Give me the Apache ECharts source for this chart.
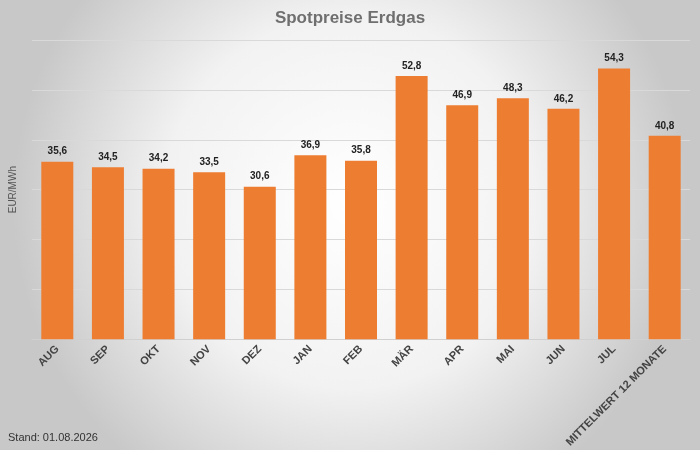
<!DOCTYPE html>
<html><head><meta charset="utf-8">
<script src="https://cdn.jsdelivr.net/npm/echarts@6/dist/echarts.min.js"></script>
<style>html,body{margin:0;padding:0}#c{width:700px;height:450px}</style>
</head><body><div id="c"></div>
<script>
const categories=["AUG","SEP","OKT","NOV","DEZ","JAN","FEB","MÄR","APR","MAI","JUN","JUL","MITTELWERT 12 MONATE"];
const values=[35.6,34.5,34.2,33.5,30.6,36.9,35.8,52.8,46.9,48.3,46.2,54.3,40.8];
const chart=echarts.init(document.getElementById('c'));
chart.setOption({
  backgroundColor:{type:'radial',x:0.5,y:0.45,r:0.75,colorStops:[{offset:0,color:'#ffffff'},{offset:0.55,color:'#f2f2f2'},{offset:1,color:'#c8c8c8'}]},
  title:{text:'Spotpreise Erdgas',left:'center',top:5,textStyle:{fontFamily:'Liberation Sans',fontSize:17,fontWeight:'bold',color:'#6f6f6f'}},
  graphic:[{type:'text',left:8,top:432,style:{text:'Stand: 01.08.2026',font:'11px Liberation Sans',fill:'#333'}}],
  grid:{left:30,right:10,top:40,bottom:110},
  xAxis:{type:'category',data:categories,axisTick:{show:false},axisLine:{lineStyle:{color:'#d0d0d0'}},
    axisLabel:{rotate:45,interval:0,color:'#444',fontFamily:'Liberation Sans',fontSize:11,fontWeight:'bold'}},
  yAxis:{type:'value',min:0,max:60,interval:10,name:'EUR/MWh',nameLocation:'middle',nameGap:14,
    nameTextStyle:{fontSize:10,color:'#555',fontFamily:'Liberation Sans'},axisLabel:{show:false},
    splitLine:{lineStyle:{color:'#d9d9d9'}}},
  series:[{type:'bar',data:values,barWidth:32,itemStyle:{color:'#ED7D31'},
    label:{show:true,position:'top',formatter:p=>p.value.toFixed(1).replace('.',','),color:'#222',fontWeight:'bold',fontSize:10,fontFamily:'Liberation Sans'}}]
});
</script></body></html>
